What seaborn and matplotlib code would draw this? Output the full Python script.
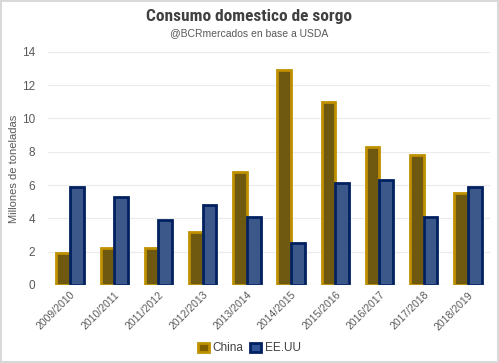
import pandas as pd
import matplotlib
matplotlib.use('Agg')
import matplotlib.pyplot as plt
from matplotlib.patches import Patch
from matplotlib import font_manager
import seaborn as sns

#datos:
campanias = ['2009/2010', '2010/2011', '2011/2012', '2012/2013', '2013/2014',
             '2014/2015', '2015/2016', '2016/2017', '2017/2018', '2018/2019']
china = [1.9, 2.2, 2.2, 3.2, 6.8, 12.9, 11.0, 8.3, 7.8, 5.5]
eeuu = [5.9, 5.3, 3.9, 4.8, 4.1, 2.5, 6.1, 6.3, 4.1, 5.9]

df = pd.DataFrame({'campania': campanias * 2,
                   'valor': china + eeuu,
                   'pais': ['China'] * len(china) + ['EE.UU'] * len(eeuu)})

caras = {'China': '#7F6000', 'EE.UU': '#2F5597'}
bordes = {'China': '#BF9000', 'EE.UU': '#002060'}

sns.set_style('white')
plt.rcParams['font.family'] = ['Liberation Sans', 'DejaVu Sans']

# fuente condensada para el titulo, si esta
nombres = {f.name for f in font_manager.fontManager.ttflist}
fuente_titulo = 'DejaVu Sans'
for cand in ['Liberation Sans Narrow', 'DejaVu Sans Condensed', 'Roboto Condensed']:
    if cand in nombres:
        fuente_titulo = cand
        break

fig = plt.figure(figsize = (4.99, 3.63), dpi = 100)
fig.patch.set_edgecolor('#D9D9D9')
fig.patch.set_linewidth(1.5)
ax = fig.add_axes([0.096, 0.215, 0.886, 0.642])

sns.barplot(data = df, x = 'campania', y = 'valor', hue = 'pais', palette = caras,
            width = 0.62, ax = ax, legend = False)

# bordes de las barras
for cont, pais in zip(ax.containers, ['China', 'EE.UU']):
    for b in cont:
        b.set_edgecolor(bordes[pais])
        b.set_linewidth(2)

ax.set_ylim(0, 14)
ax.set_yticks(range(0, 15, 2))
ax.yaxis.grid(True, color = '#EBEBEB', linewidth = 0.8)
ax.set_axisbelow(True)
for s in ax.spines.values():
    s.set_visible(False)
ax.axhline(0, color = '#D9D9D9', linewidth = 0.8)

ax.set_xlabel('')
ax.set_ylabel('Millones de toneladas', fontsize = 8, color = '#595959', labelpad = 2)
ax.tick_params(axis = 'y', labelsize = 8.5, labelcolor = '#595959', length = 0, pad = 9)
ax.tick_params(axis = 'x', labelsize = 7.5, labelcolor = '#595959', length = 0)
ax.set_xticks(range(len(campanias)))
ax.set_xticklabels(campanias, rotation = 45, ha = 'right', rotation_mode = 'anchor')

fig.text(0.5, 0.955, 'Consumo domestico de sorgo', ha = 'center', va = 'center',
         fontsize = 12.5, fontweight = 'bold', color = '#404040',
         family = fuente_titulo, fontstretch = 'condensed')
fig.text(0.5, 0.908, '@BCRmercados en base a USDA', ha = 'center', va = 'center',
         fontsize = 7.5, color = '#595959')

handles = [Patch(facecolor = caras[p], edgecolor = bordes[p], linewidth = 2, label = p)
           for p in ['China', 'EE.UU']]
fig.legend(handles = handles, loc = 'center', bbox_to_anchor = (0.5, 0.04), ncol = 2,
           frameon = False, fontsize = 8.5, handlelength = 0.9, handleheight = 0.9,
           handletextpad = 0.3, columnspacing = 0.6, labelcolor = '#404040')

fig.savefig('out.png', dpi = 100, edgecolor = fig.get_edgecolor())
